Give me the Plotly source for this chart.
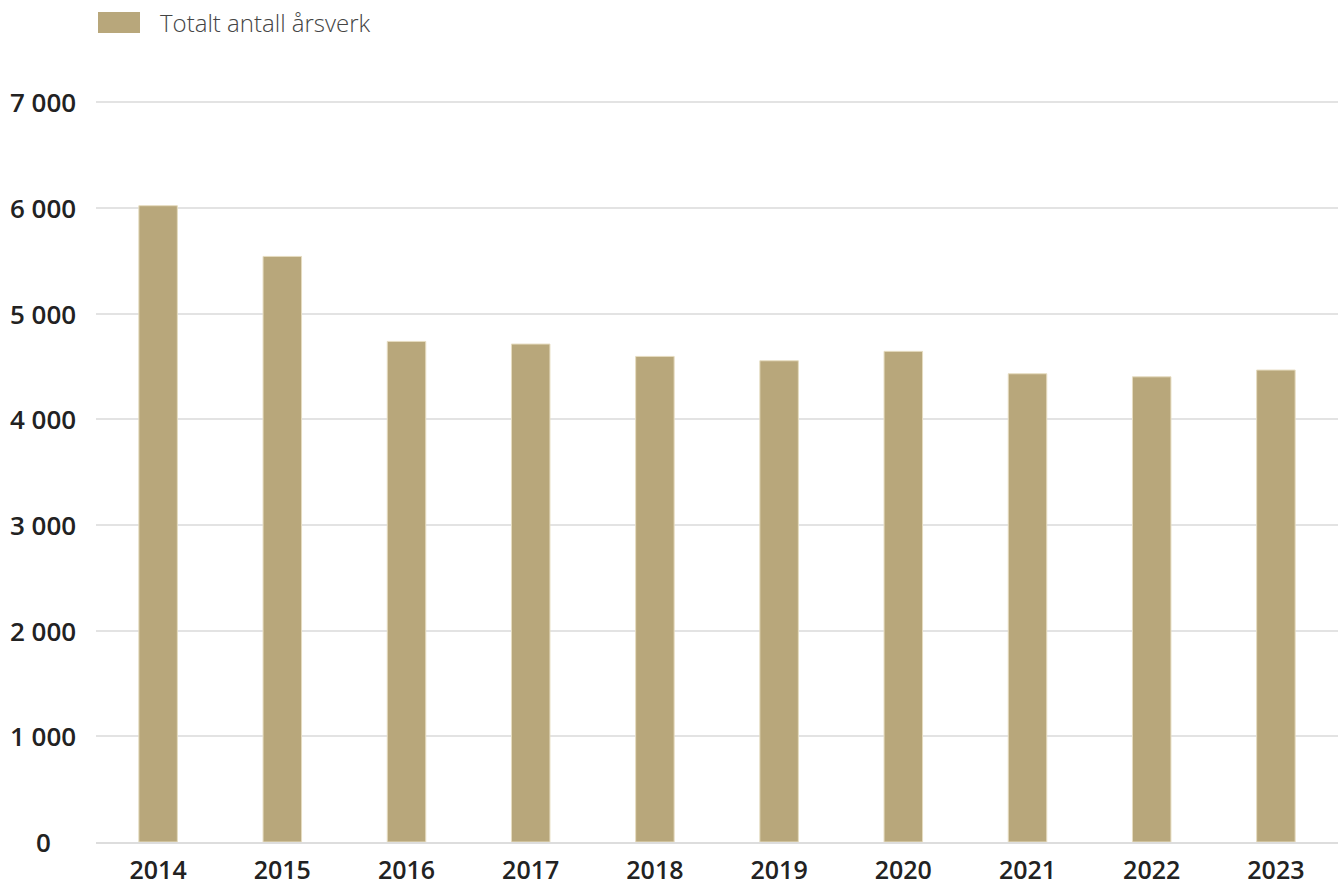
import plotly.graph_objects as go

years = ["2014", "2015", "2016", "2017", "2018", "2019", "2020", "2021", "2022", "2023"]
aarsverk = [6020, 5540, 4736, 4711, 4594, 4553, 4642, 4430, 4401, 4465]
y_ticks = [0, 1000, 2000, 3000, 4000, 5000, 6000, 7000]
y_tick_labels = ["0", "1 000", "2 000", "3 000", "4 000", "5 000", "6 000", "7 000"]
series_name = "Totalt antall årsverk"

bar_color = "#b8a77b"

W, H = 1343, 886
L, R, T, B = 96, 5, 100, 44
PW, PH = W - L - R, H - T - B


def px_x(x):
    return (x - L) / PW


def px_y(y):
    return (T + PH - y) / PH


fig = go.Figure()
fig.add_trace(go.Bar(
    x=years, y=aarsverk, name=series_name,
    marker=dict(color=bar_color, line=dict(color="#e6dcc0", width=1)),
    width=0.31, showlegend=False,
))

fig.update_layout(
    width=W, height=H,
    margin=dict(l=L, r=R, t=T, b=B, autoexpand=False),
    paper_bgcolor="white", plot_bgcolor="white",
    font=dict(family="Open Sans", color="#222222"),
)
fig.update_xaxes(
    type="category", showgrid=False, showline=True, linecolor="#dddddd", linewidth=2,
    ticks="", tickfont=dict(family="Open Sans", size=25, weight=600, color="#222222"),
    ticklabelstandoff=5, automargin=False,
)
fig.update_yaxes(
    range=[0, 7020], tickvals=y_ticks, showticklabels=False, automargin=False,
    showgrid=True, gridcolor="#e3e3e3", gridwidth=1.5, zeroline=False, ticks="",
)

# Y tick labels (centered, as in the reference)
for v, lab in zip(y_ticks, y_tick_labels):
    fig.add_annotation(xref="paper", yref="y", x=px_x(43), y=v, text=lab,
                       showarrow=False, xanchor="center", yanchor="middle",
                       font=dict(family="Open Sans", size=26, weight=600, color="#222222"))

# Legend swatch + label
fig.add_shape(type="rect", xref="paper", yref="paper",
              x0=px_x(98), x1=px_x(140), y0=px_y(33), y1=px_y(12),
              fillcolor=bar_color, line=dict(width=0))
fig.add_annotation(xref="paper", yref="paper", x=px_x(158), y=px_y(22),
                   text=series_name, showarrow=False, xanchor="left", yanchor="middle",
                   font=dict(family="Open Sans", size=24, weight=300, color="#444444"))

fig.write_html("out.html", config={"displayModeBar": False},
               post_script="document.body.style.margin='0';")
